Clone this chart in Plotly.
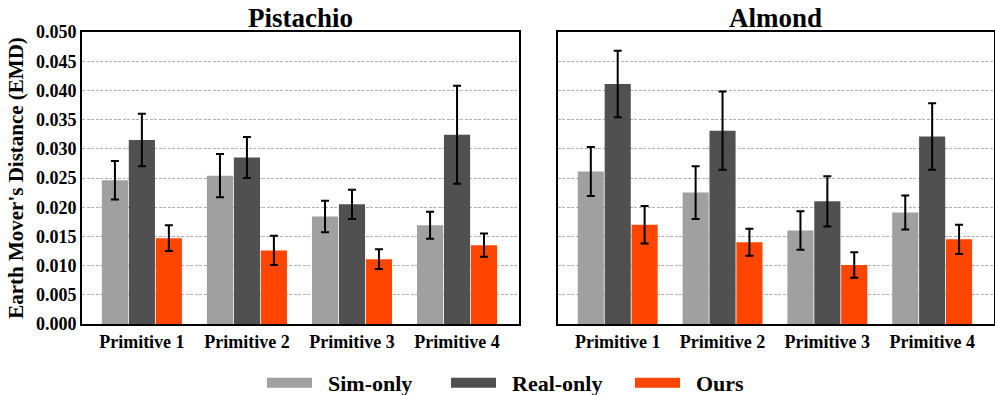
import plotly.graph_objects as go
from plotly.subplots import make_subplots

categories = ["Primitive 1", "Primitive 2", "Primitive 3", "Primitive 4"]
series_names = ["Sim-only", "Real-only", "Ours"]
panel_titles = ["Pistachio", "Almond"]

pist_sim = [0.0246, 0.0254, 0.0184, 0.0169]
pist_sim_err = [0.0033, 0.0037, 0.0027, 0.0023]
pist_real = [0.0315, 0.0285, 0.0205, 0.0324]
pist_real_err = [0.0045, 0.0035, 0.0025, 0.0084]
pist_ours = [0.0147, 0.0126, 0.0111, 0.0135]
pist_ours_err = [0.0022, 0.0025, 0.0017, 0.0020]

alm_sim = [0.0261, 0.0225, 0.0160, 0.0191]
alm_sim_err = [0.0042, 0.0045, 0.0033, 0.0029]
alm_real = [0.0411, 0.0331, 0.0210, 0.0321]
alm_real_err = [0.0057, 0.0067, 0.0043, 0.0057]
alm_ours = [0.0170, 0.0140, 0.0101, 0.0145]
alm_ours_err = [0.0032, 0.0023, 0.0022, 0.0025]

colors = ["#a0a0a0", "#505050", "#ff4500"]
FONT = "Liberation Serif"

fig = make_subplots(rows=1, cols=2, shared_yaxes=True, horizontal_spacing=0.043,
                    subplot_titles=panel_titles)

panels = [
    [(pist_sim, pist_sim_err), (pist_real, pist_real_err), (pist_ours, pist_ours_err)],
    [(alm_sim, alm_sim_err), (alm_real, alm_real_err), (alm_ours, alm_ours_err)],
]

for col, panel in enumerate(panels, start=1):
    for i, (vals, errs) in enumerate(panel):
        fig.add_trace(go.Bar(
            x=categories, y=vals, name=series_names[i],
            marker=dict(color=colors[i], line=dict(width=0)),
            error_y=dict(type="data", array=errs, visible=True, color="black",
                         thickness=2, width=4),
            showlegend=False,
            legendgroup=series_names[i],
        ), row=1, col=col)

# legend-only entries drawn as wide swatches
for i, name in enumerate(series_names):
    fig.add_trace(go.Scatter(
        x=[None], y=[None], mode="lines", name="\u00a0\u00a0" + name,
        line=dict(color=colors[i], width=15),
        legendgroup=name, showlegend=True,
    ), row=1, col=1)

fig.update_layout(
    width=995, height=395,
    margin=dict(l=82, r=1, t=32, b=71, autoexpand=False),
    paper_bgcolor="white", plot_bgcolor="white",
    barmode="group", bargap=0.23, bargroupgap=0.03,
    font=dict(family=FONT, color="black", size=18),
    legend=dict(orientation="h", x=0.5, xanchor="center", y=-0.13, yanchor="top",
                font=dict(family=FONT, size=22, color="black", weight="bold"),
                itemwidth=45, tracegroupgap=0, entrywidth=124, traceorder="normal"),
)
fig.update_layout(xaxis=dict(domain=[0, 0.4792]), xaxis2=dict(domain=[0.5219, 1]))

fig.update_annotations(font=dict(family=FONT, size=27, color="black", weight="bold"), yshift=-3)

fig.update_xaxes(
    range=[-0.57, 3.59], showline=True, linecolor="black", linewidth=2, mirror=True,
    tickfont=dict(family=FONT, size=18, color="black", weight="bold"),
    ticks="", showgrid=False, automargin=False,
)
fig.update_yaxes(
    range=[0, 0.050], dtick=0.005, tickformat=".3f",
    showline=True, linecolor="black", linewidth=2, mirror=True,
    showgrid=True, gridcolor="#b0b0b0", griddash="3px,1.5px", gridwidth=1,
    tickfont=dict(family=FONT, size=18, color="black", weight="bold"),
    ticks="", zeroline=False, automargin=False,
)
fig.update_yaxes(
    title=dict(text="Earth Mover's Distance (EMD)",
               font=dict(family=FONT, size=21, color="black", weight="bold"), standoff=7),
    row=1, col=1,
)

fig.write_html("out.html", config={"displayModeBar": False},
               post_script="document.body.style.margin='0';")
